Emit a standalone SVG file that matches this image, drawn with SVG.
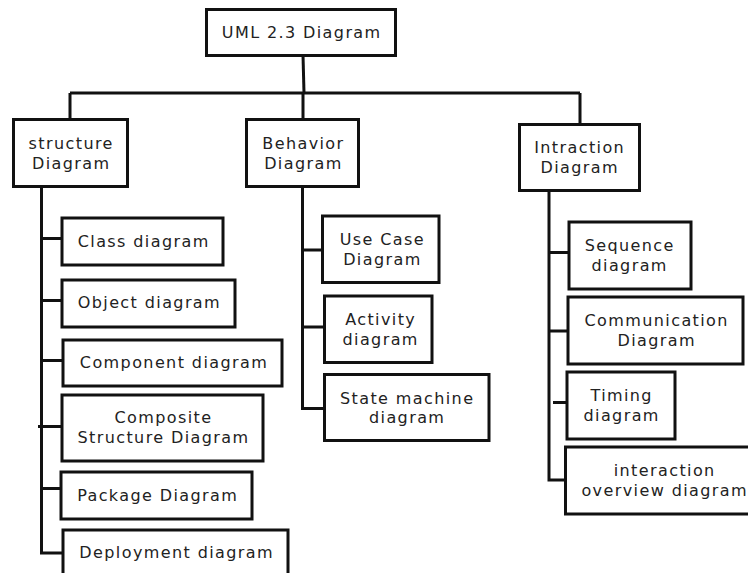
<svg xmlns="http://www.w3.org/2000/svg" width="748" height="573" viewBox="0 0 748 573">
<style>
.box{fill:#fff;stroke:#111;stroke-width:3}
.ln{fill:none;stroke:#111;stroke-width:3}
text{font-family:"DejaVu Sans",sans-serif;font-size:16px;letter-spacing:1.4px;fill:#222;text-anchor:middle}
</style>
<rect width="748" height="573" fill="#fff"/>
<g id="connectors">
<path class="ln" d="M303,55 L304,93"/>
<path class="ln" d="M70,93 H580"/>
<path class="ln" d="M70,93 V119 M303,93 V119 M580,93 V124"/>
<path class="ln" d="M41.5,187 V553 H63"/>
<path class="ln" d="M41.5,238.5 H62 M41.5,300.5 H62 M41.5,360.5 H63 M38,426.5 H62 M41.5,488.5 H61"/>
<path class="ln" d="M302.5,187 V408.5 H324.5"/>
<path class="ln" d="M302.5,250 H322.5 M302.5,327 H324.5"/>
<path class="ln" d="M549,191 V480 H565.5"/>
<path class="ln" d="M549,252.5 H569 M549,331 H568 M553,402.5 H567"/>
</g>
<g id="root"><rect class="box" x="206.5" y="9.5" width="189" height="46"/><text x="301.7" y="37.7">UML 2.3 Diagram</text></g>
<g id="structure"><rect class="box" x="13.5" y="119.5" width="114" height="67"/><text x="71.2" y="148.5">structure</text><text x="71.2" y="168.5">Diagram</text></g>
<g id="behavior"><rect class="box" x="246.5" y="119.5" width="112" height="67"/><text x="303.4" y="148.5">Behavior</text><text x="303.4" y="168.5">Diagram</text></g>
<g id="intraction"><rect class="box" x="519.5" y="124.5" width="120" height="66"/><text x="579.7" y="153">Intraction</text><text x="579.7" y="173">Diagram</text></g>
<g id="class"><rect class="box" x="62" y="218" width="161" height="47"/><text x="143.7" y="247">Class diagram</text></g>
<g id="object"><rect class="box" x="62" y="280" width="173" height="47"/><text x="149.4" y="308">Object diagram</text></g>
<g id="component"><rect class="box" x="63" y="340" width="219" height="46"/><text x="174" y="368">Component diagram</text></g>
<g id="composite"><rect class="box" x="62" y="395" width="201" height="66"/><text x="163.5" y="423">Composite</text><text x="163.5" y="443">Structure Diagram</text></g>
<g id="package"><rect class="box" x="61" y="472" width="191" height="47"/><text x="157.7" y="500.5">Package Diagram</text></g>
<g id="deployment"><rect class="box" x="63" y="530" width="225" height="47"/><text x="176.7" y="558">Deployment diagram</text></g>
<g id="usecase"><rect class="box" x="322.5" y="216" width="116.5" height="66.5"/><text x="382.4" y="245">Use Case</text><text x="382.4" y="264.5">Diagram</text></g>
<g id="activity"><rect class="box" x="324.5" y="296" width="107.5" height="66.5"/><text x="380.7" y="325">Activity</text><text x="380.7" y="344.5">diagram</text></g>
<g id="statemachine"><rect class="box" x="324.5" y="374.5" width="164.5" height="66"/><text x="407.2" y="404">State machine</text><text x="407.2" y="423">diagram</text></g>
<g id="sequence"><rect class="box" x="569" y="222" width="122" height="67"/><text x="629.7" y="251">Sequence</text><text x="629.7" y="270.5">diagram</text></g>
<g id="communication"><rect class="box" x="568" y="297" width="175" height="67"/><text x="656.7" y="325.5">Communication</text><text x="656.7" y="345.5">Diagram</text></g>
<g id="timing"><rect class="box" x="567" y="372" width="108" height="67"/><text x="621.7" y="400.5">Timing</text><text x="621.7" y="420.5">diagram</text></g>
<g id="interactionoverview"><rect class="box" x="565.5" y="447" width="197.5" height="67"/><text x="664.7" y="475.5">interaction</text><text x="664.7" y="495.5">overview diagram</text></g>
</svg>
